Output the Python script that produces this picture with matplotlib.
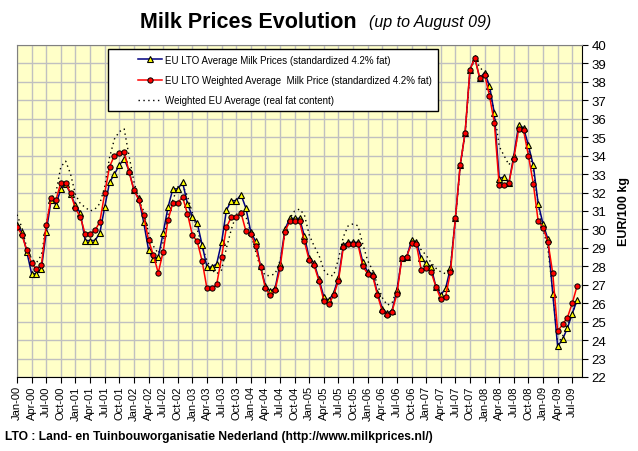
import matplotlib
matplotlib.use("Agg")
import matplotlib.pyplot as plt
from matplotlib.legend_handler import HandlerLine2D
import numpy as np

plt.rcParams['font.family'] = ['Liberation Sans', 'DejaVu Sans']

# monthly data Jan-00 .. Aug-09 (EUR/100 kg)
lto_avg = [30.25, 29.85, 28.8, 27.6, 27.6, 27.85, 29.85, 31.6, 31.35, 32.2, 32.47, 31.93,
           31.3, 30.9, 29.4, 29.4, 29.4, 29.8, 31.2, 32.55, 33.0, 33.48, 33.83, 33.18,
           32.12, 31.68, 30.4, 28.9, 28.4, 28.5, 29.8, 31.2, 32.2, 32.2, 32.55, 31.4,
           30.7, 30.35, 29.17, 27.96, 27.96, 28.14, 29.3, 31.05, 31.56, 31.56, 31.88, 31.15,
           29.87, 29.35, 28.0, 26.95, 26.64, 26.82, 28.14, 30.0, 30.6, 30.6, 30.6, 29.65,
           28.43, 28.17, 27.3, 26.34, 26.15, 26.55, 27.38, 29.15, 29.3, 29.3, 29.3, 28.23,
           27.69, 27.6, 26.55, 25.7, 25.45, 25.6, 26.7, 28.43, 28.5, 29.42, 29.33, 28.43,
           28.16, 27.98, 26.9, 26.45, 26.8, 27.93, 30.6, 33.5, 35.24, 38.67, 39.3, 38.2,
           38.5, 37.8, 36.3, 32.76, 32.85, 32.54, 34.0, 35.68, 35.5, 34.56, 33.48, 31.4,
           30.3, 29.48, 26.5, 23.66, 24.04, 24.65, 25.44, 26.18]

lto_weighted = [30.15, 29.7, 28.9, 28.16, 27.85, 28.05, 30.23, 31.7, 31.6, 32.54, 32.54, 31.95,
                31.14, 30.68, 29.75, 29.78, 29.95, 30.4, 31.95, 33.4, 34.0, 34.15, 34.22, 33.12,
                32.15, 31.6, 30.77, 29.42, 28.6, 27.65, 28.78, 30.5, 31.45, 31.45, 31.75, 30.85,
                29.7, 29.35, 28.3, 26.8, 26.8, 27.02, 28.5, 30.12, 30.67, 30.7, 30.9, 29.9,
                29.78, 29.1, 27.98, 26.8, 26.43, 26.71, 27.9, 29.88, 30.45, 30.45, 30.45, 29.35,
                28.32, 28.05, 27.2, 26.13, 25.95, 26.42, 27.23, 29.03, 29.22, 29.22, 29.2, 28.0,
                27.6, 27.5, 26.45, 25.56, 25.37, 25.55, 26.5, 28.43, 28.52, 29.24, 29.19, 27.8,
                27.9, 27.71, 26.9, 26.23, 26.36, 27.7, 30.6, 33.5, 35.24, 38.67, 39.3, 38.2,
                38.4, 37.26, 35.78, 32.4, 32.4, 32.54, 33.84, 35.46, 35.37, 34.0, 32.49, 30.45,
                30.1, 29.33, 27.62, 24.47, 24.85, 25.22, 26.0, 26.94]

eu_real_fat = [30.8, 30.1, 29.0, 28.4, 28.2, 28.6, 30.2, 31.7, 32.0, 33.4, 33.7, 33.0,
               31.9, 31.4, 31.2, 31.0, 31.1, 31.4, 32.3, 33.9, 34.9, 35.3, 35.45, 34.0,
               32.6, 31.6, 31.0, 29.8, 29.1, 28.7, 29.3, 30.8, 31.6, 32.3, 32.4, 31.8,
               30.9, 30.0, 29.1, 28.3, 27.8, 27.6, 27.8, 29.0, 30.0, 30.8, 31.0, 30.7,
               29.8, 28.8, 27.9, 27.5, 27.5, 27.6, 28.3, 29.7, 30.6, 31.0, 31.1, 30.8,
               29.7, 29.1, 28.6, 27.8, 27.5, 27.5, 28.4, 29.6, 30.2, 30.3, 30.2, 29.2,
               28.3, 27.8, 27.0, 26.3, 25.9, 26.0, 26.8, 28.3, 28.6, 29.2, 29.1, 28.9,
               28.6, 28.2, 27.9, 27.7, 27.6, 28.0, 30.5, 33.4, 35.2, 38.5, 39.3, 38.8,
               38.5, 37.5, 36.4, 34.5, 34.0, 33.5, 34.0, 35.4, 35.4, 34.4, 33.2, 31.4,
               30.0, 29.0, 26.6, 23.8, 24.2, 24.8, 25.4, 26.2]

month_names = ['Jan', 'Apr', 'Jul', 'Oct']
years = ['00', '01', '02', '03', '04', '05', '06', '07', '08', '09']

months = np.arange(len(lto_avg))
tick_pos = np.arange(0, 115, 3)
tick_labels = [month_names[(p // 3) % 4] + '-' + years[p // 12] for p in tick_pos]


class ShortLine(HandlerLine2D):
    # legend sample line drawn only in the right part of the handle box (Excel look)
    def get_xdata(self, legend, xdescent, ydescent, width, height, fontsize):
        seg = 17.5  # points, ~24 px
        x1 = -xdescent + width
        return [x1 - seg, x1], [x1 - seg / 2]


fig = plt.figure(figsize=(6.38, 4.52), dpi=100)
ax = fig.add_axes([17 / 638, 1 - 378 / 452, 565 / 638, 332 / 452])
ax.set_facecolor('#FFFFC8')

l1, = ax.plot(months, lto_avg, color='#000080', linewidth=1.1, marker='^', markersize=4.5,
              markerfacecolor='#FFFF00', markeredgecolor='black', markeredgewidth=0.8,
              label='EU LTO Average Milk Prices (standardized 4.2% fat)', zorder=4)
l2, = ax.plot(months, lto_weighted, color='#FF0000', linewidth=1.1, marker='o', markersize=3.8,
              markerfacecolor='#FF0000', markeredgecolor='black', markeredgewidth=0.7,
              label='EU LTO Weighted Average  Milk Price (standardized 4.2% fat)', zorder=5)
l3, = ax.plot(months, eu_real_fat, color='black', linewidth=1.0, linestyle=(0, (1, 2.5)),
              label='Weighted EU Average (real fat content)', zorder=3)

ax.set_xlim(0, 116)
ax.set_ylim(22, 40)
ax.set_yticks(np.arange(22, 41, 1))
ax.set_xticks(tick_pos)
ax.set_xticklabels(tick_labels, rotation=90, fontsize=8)
ax.yaxis.tick_right()
ax.yaxis.set_label_position('right')
ax.tick_params(axis='y', labelsize=9.5, direction='out', length=4, pad=3)
ax.tick_params(axis='x', direction='out', length=4, pad=2)
ax.set_ylabel('EUR/100 kg', fontsize=9, fontweight='bold', labelpad=8)
ax.grid(True, color='#C0C0C0', linewidth=1.0)
ax.set_axisbelow(True)
for side in ['left', 'top']:
    ax.spines[side].set_color('#808080')
for side in ['right', 'bottom']:
    ax.spines[side].set_color('black')

h = ShortLine()
leg = ax.legend(handles=[l1, l2, l3], handler_map={l1: h, l2: h, l3: h},
                loc='upper left', bbox_to_anchor=(91 / 565, 1 - 4 / 332), borderaxespad=0,
                fontsize=7, frameon=True, fancybox=False, framealpha=1, edgecolor='black',
                handlelength=4.96, borderpad=0.6, labelspacing=1.05, handletextpad=0.3)
leg.get_frame().set_linewidth(1.0)

fig.text(357 / 638, 1 - 22 / 452, 'Milk Prices Evolution', ha='right', va='center',
         fontsize=15.5, fontweight='bold')
fig.text(369 / 638, 1 - 23 / 452, '(up to August 09)', ha='left', va='center',
         fontsize=11.5, style='italic')
fig.text(5 / 638, 1 - 437 / 452,
         'LTO : Land- en Tuinbouworganisatie Nederland (http://www.milkprices.nl/)',
         ha='left', va='center', fontsize=8.7, fontweight='bold')

fig.savefig('out.png', dpi=100)
